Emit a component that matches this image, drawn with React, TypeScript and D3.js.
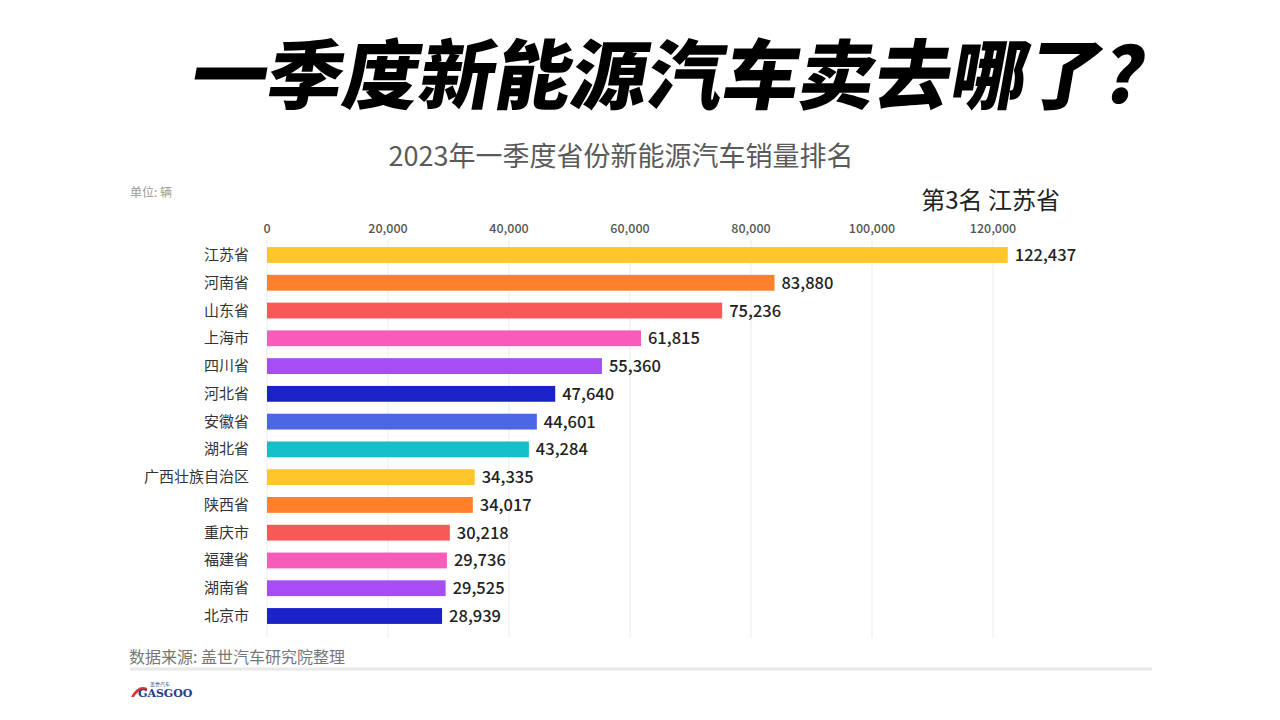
import React from "react";
import * as d3 from "d3";

const provinces = ["江苏省", "河南省", "山东省", "上海市", "四川省", "河北省", "安徽省", "湖北省", "广西壮族自治区", "陕西省", "重庆市", "福建省", "湖南省", "北京市"];
const sales = [122437, 83880, 75236, 61815, 55360, 47640, 44601, 43284, 34335, 34017, 30218, 29736, 29525, 28939];
const barColors = ["#FFC629", "#FF7F2A", "#F85858", "#F75CBA", "#A64DF5", "#1B22C8", "#4C67E3", "#14BFC9", "#FFC629", "#FF7F2A", "#F85858", "#F75CBA", "#A64DF5", "#1B22C8"];
const tickValues = [0, 20000, 40000, 60000, 80000, 100000, 120000];

const titleText = "一季度新能源汽车卖去哪了?";
const subtitleText = "2023年一季度省份新能源汽车销量排名";
const unitText = "单位: 辆";
const rankText = "第3名 江苏省";
const sourceText = "数据来源: 盖世汽车研究院整理";

const FONT = "'Noto Sans CJK SC', 'Noto Sans', sans-serif";

export default function App() {
  const x = d3.scaleLinear().domain([0, 120000]).range([267, 993]);
  const y = d3.scaleBand<string>().domain(provinces).range([233.2, 637.8]).paddingInner(0.43).paddingOuter(0.5);
  const fmt = d3.format(",");
  const bw = y.bandwidth();

  return (
    <svg width={1280} height={720} style={{ position: "absolute", left: 0, top: 0, background: "#fff" }} fontFamily={FONT}>
      <rect x={0} y={0} width={1280} height={720} fill="#fff" />
      {/* title */}
      <g transform="translate(664,103) skewX(-10)">
        <text x={0} y={0} textAnchor="middle" fontSize={76} fontWeight={900} fill="#000">{titleText}</text>
      </g>
      <text x={621} y={166} textAnchor="middle" fontSize={27} fill="#5a5a5a">{subtitleText}</text>
      <text x={130} y={197} fontSize={12} fill="#9a9a9a">{unitText}</text>
      <text x={1060} y={209} textAnchor="end" fontSize={24} fill="#222">{rankText}</text>

      {/* grid + ticks */}
      {tickValues.map((t) => (
        <g key={t}>
          <line x1={x(t)} x2={x(t)} y1={240} y2={638} stroke="#ebebeb" strokeWidth={1} />
          <text x={x(t)} y={233} textAnchor="middle" fontSize={12.5} fontWeight={500} fill="#555">{fmt(t)}</text>
        </g>
      ))}

      {/* bars */}
      {provinces.map((p, i) => {
        const yc = (y(p) as number) + bw / 2;
        return (
          <g key={p}>
            <text x={249} y={yc + 5} textAnchor="end" fontSize={15} fill="#333">{p}</text>
            <rect x={x(0)} y={y(p) as number} width={x(sales[i]) - x(0)} height={bw} fill={barColors[i]} />
            <text x={x(sales[i]) + 7} y={yc + 6} fontSize={16.5} fontWeight={500} fill="#222">{fmt(sales[i])}</text>
          </g>
        );
      })}

      {/* footer */}
      <text x={129} y={663} fontSize={16} fill="#777">{sourceText}</text>
      <line x1={130} x2={1152} y1={669} y2={669} stroke="#e8e8e8" strokeWidth={3} />
      <g>
        <path d="M131,697 Q138,684 147,688 L147,691 Q139,688 134,697 Z" fill="#d33" />
        <text x={138} y={697} fontSize={11} fontWeight={700} fill="#24408e" fontFamily="'DejaVu Serif', serif">GASGOO</text>
        <text x={150} y={686} fontSize={5} fill="#24408e">盖世汽车</text>
      </g>
    </svg>
  );
}
